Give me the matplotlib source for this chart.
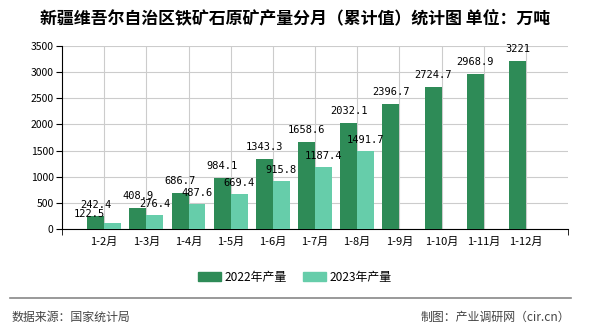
import numpy as np
import matplotlib
matplotlib.use('Agg')
import matplotlib.pyplot as plt
from matplotlib.lines import Line2D

plt.rcParams['font.family'] = ['Noto Sans CJK SC', 'DejaVu Sans']

months = ['1-2月', '1-3月', '1-4月', '1-5月', '1-6月', '1-7月', '1-8月',
          '1-9月', '1-10月', '1-11月', '1-12月']
y2022 = [242.4, 408.9, 686.7, 984.1, 1343.3, 1658.6, 2032.1, 2396.7, 2724.7, 2968.9, 3221]
y2023 = [122.5, 276.4, 487.6, 669.4, 915.8, 1187.4, 1491.7]
labels2022 = ['242.4', '408.9', '686.7', '984.1', '1343.3', '1658.6', '2032.1',
              '2396.7', '2724.7', '2968.9', '3221']
labels2023 = ['122.5', '276.4', '487.6', '669.4', '915.8', '1187.4', '1491.7']

c22 = '#2e8b57'
c23 = '#66cdaa'

fig = plt.figure(figsize=(5.9, 3.3), dpi=100)
ax = fig.add_axes([62 / 590, 1 - 229 / 330, 506 / 590, 183 / 330])

x = np.arange(1, len(months) + 1)
w = 0.4
ax.bar(x[:len(y2022)] - w / 2, y2022, w, color=c22, zorder=3)
ax.bar(x[:len(y2023)] + w / 2, y2023, w, color=c23, zorder=3)

mono = 'DejaVu Sans Mono'
for xi, v, s in zip(x, y2022, labels2022):
    ax.text(xi - w / 2, v + 130, s, ha='center', va='bottom', fontsize=7.5,
            family=mono, zorder=4)
for i, (xi, v, s) in enumerate(zip(x, y2023, labels2023)):
    # first label in the reference sits a bit to the left and lower
    dx = -0.55 if i == 0 else 0
    dy = 60 if i == 0 else 110
    ax.text(xi + w / 2 + dx, v + dy, s, ha='center', va='bottom', fontsize=7.5,
            family=mono, zorder=4)

ax.set_xlim(0, 12)
ax.set_ylim(0, 3500)
ax.set_yticks(np.arange(0, 3501, 500))
ax.set_yticklabels([str(v) for v in range(0, 3501, 500)], fontsize=7.5)
ax.set_xticks(x)
ax.set_xticklabels(months, fontsize=8)
ax.tick_params(axis='x', length=0, pad=6)
ax.tick_params(axis='y', length=4, pad=2)
ax.set_xticks(np.arange(0, 13), minor=True)
ax.tick_params(axis='x', which='minor', length=4)
ax.grid(True, color='#cccccc', linewidth=0.8, zorder=0)
for s in ['top', 'right']:
    ax.spines[s].set_visible(False)
for s in ['left', 'bottom']:
    ax.spines[s].set_color('black')

fig.text(0.5, 1 - 18 / 330, '新疆维吾尔自治区铁矿石原矿产量分月（累计值）统计图 单位：万吨',
         ha='center', va='center', fontsize=12.2, fontweight='bold')

handles = [plt.Rectangle((0, 0), 1, 1, color=c22), plt.Rectangle((0, 0), 1, 1, color=c23)]
fig.legend(handles, ['2022年产量', '2023年产量'], loc='center',
           bbox_to_anchor=(0.5, 1 - 277 / 330), ncol=2, frameon=False,
           fontsize=8.6, handlelength=1.9, handleheight=0.7, handletextpad=0.3,
           columnspacing=1.4)

fig.add_artist(Line2D([10 / 590, 571 / 590], [1 - 298 / 330, 1 - 298 / 330],
                      color='#888888', linewidth=1.2))
fig.text(12 / 590, 1 - 317 / 330, '数据来源：国家统计局', ha='left', va='center',
         fontsize=8.6, color='#444444')
fig.text(570 / 590, 1 - 317 / 330, '制图：产业调研网（cir.cn）', ha='right', va='center',
         fontsize=8.6, color='#444444')

fig.savefig('out.png', dpi=100, facecolor='white')
